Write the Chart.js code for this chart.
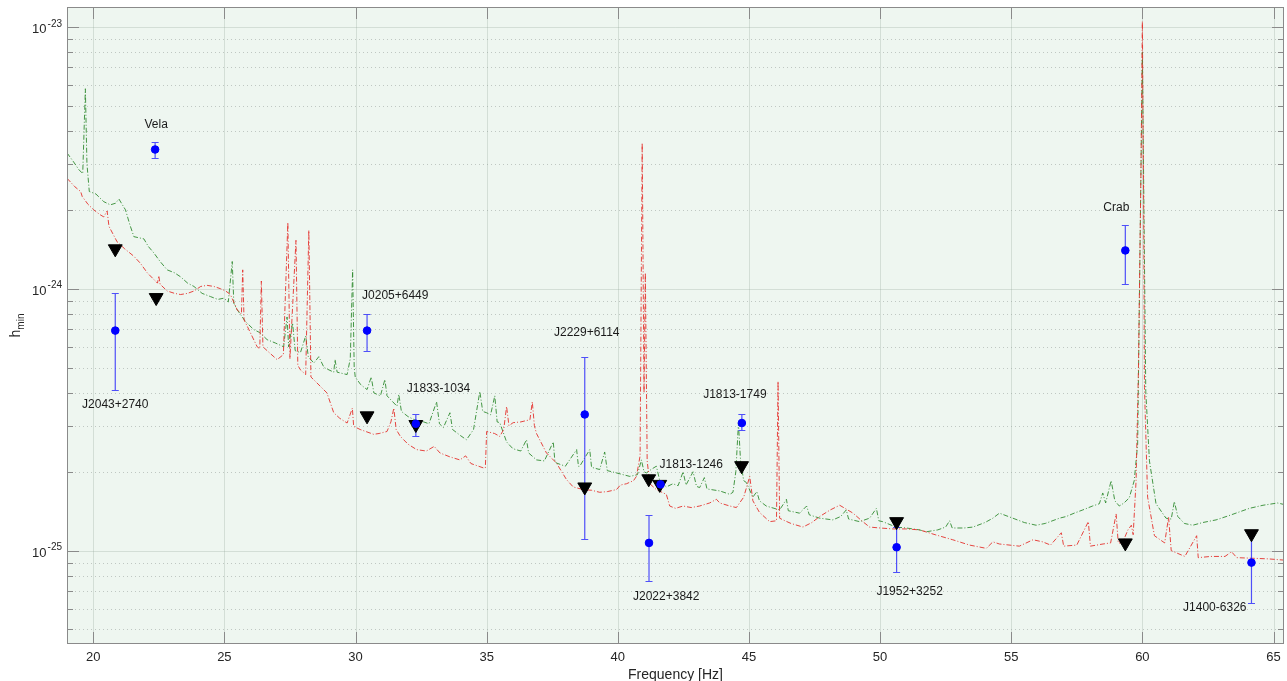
<!DOCTYPE html>
<html>
<head>
<meta charset="utf-8">
<script src="https://cdn.jsdelivr.net/npm/chart.js@4.4.1/dist/chart.umd.min.js"></script>
<style>
  body { margin:0; background:#fff; }
  canvas { display:block; }
</style>
</head>
<body>
<canvas id="hminChart" width="1287" height="681"></canvas>
<script>
// noise curves (frequency in Hz, h_min)
const greenF = [19.0,19.25,19.45,19.6,19.7,19.76,19.85,20.1,20.4,20.65,20.85,20.98,21.1,21.23,21.4,21.55,21.93,22.1,22.31,22.55,22.82,23.1,23.33,23.6,23.84,24.15,24.47,24.75,24.98,25.15,25.3,25.36,25.49,25.8,26.12,26.35,26.63,26.95,27.26,27.39,27.45,27.6,27.7,27.9,28.1,28.2,28.41,28.6,28.8,29.17,29.22,29.3,29.68,29.8,29.89,29.95,29.99,30.2,30.44,30.6,30.7,30.95,31.12,31.2,31.58,31.65,31.75,32.0,32.33,32.6,32.8,33.09,33.2,33.35,33.6,33.7,34.0,34.23,34.5,34.74,34.85,35.0,35.15,35.31,35.4,35.5,35.76,36.0,36.3,36.52,36.6,36.9,37.2,37.54,37.6,37.66,38.0,38.43,38.5,38.55,38.93,39.0,39.31,39.5,39.6,39.95,40.2,40.46,40.75,40.9,41.0,41.09,41.3,41.47,41.6,41.85,42.1,42.3,42.49,42.6,42.87,43.0,43.12,43.3,43.4,43.89,44.27,44.39,44.5,44.6,44.68,44.8,44.9,45.15,45.3,45.4,45.66,46.17,46.43,46.5,46.93,47.2,47.3,47.7,48.2,48.5,48.71,48.8,49.22,49.6,49.86,49.95,50.1,50.61,51.0,51.5,51.76,52.2,52.5,52.65,52.75,53.2,53.54,54.0,54.3,54.55,55.06,55.5,55.95,56.3,56.84,57.1,57.4,57.73,58.1,58.36,58.49,58.6,58.81,58.95,59.12,59.3,59.5,59.69,59.82,59.94,60.0,60.06,60.13,60.27,60.52,60.9,61.1,61.22,61.35,61.6,61.92,62.3,62.81,63.3,64.08,64.6,65.16,65.4];
const greenH = [3.30e-24,3.05e-24,2.85e-24,2.75e-24,5.8e-24,3.0e-24,2.35e-24,2.3e-24,2.15e-24,2.09e-24,2.12e-24,2.2e-24,2.1e-24,2.0e-24,1.75e-24,1.58e-24,1.55e-24,1.45e-24,1.37e-24,1.27e-24,1.18e-24,1.15e-24,1.11e-24,1.05e-24,1.02e-24,9.6e-25,9.33e-25,9.1e-25,9.2e-25,8.9e-25,1.27e-24,8.8e-25,8.31e-25,7.5e-25,6.98e-25,6.8e-25,6.39e-25,6.2e-25,6.0e-25,7.8e-25,6.0e-25,7.4e-25,5.8e-25,5.7e-25,6.6e-25,5.5e-25,5.2e-25,5.5e-25,5.0e-25,4.8e-25,5.36e-25,4.8e-25,4.7e-25,5.4e-25,1.18e-24,5.0e-25,4.6e-25,4.3e-25,4.12e-25,4.6e-25,4.0e-25,3.9e-25,4.5e-25,3.9e-25,3.56e-25,3.95e-25,3.4e-25,3.25e-25,3.13e-25,3.1e-25,3.05e-25,3.7e-25,3.05e-25,2.95e-25,3.36e-25,2.9e-25,2.75e-25,2.65e-25,2.9e-25,4.05e-25,3.4e-25,3.36e-25,3.3e-25,3.9e-25,3.1e-25,3.08e-25,2.6e-25,2.45e-25,2.4e-25,2.65e-25,2.36e-25,2.22e-25,2.2e-25,2.6e-25,2.2e-25,2.16e-25,2.1e-25,2.43e-25,2.1e-25,2.1e-25,2.43e-25,2.08e-25,2.04e-25,2.38e-25,2.02e-25,1.98e-25,1.95e-25,1.92e-25,1.95e-25,2.22e-25,2.0e-25,1.98e-25,2.05e-25,2.1e-25,1.85e-25,1.75e-25,1.8e-25,1.77e-25,2.0e-25,1.78e-25,2.0e-25,1.76e-25,1.74e-25,1.9e-25,1.72e-25,1.69e-25,1.64e-25,1.67e-25,2.0e-25,3.07e-25,2.2e-25,1.85e-25,1.82e-25,1.6e-25,1.68e-25,1.55e-25,1.48e-25,1.43e-25,1.57e-25,1.42e-25,1.39e-25,1.48e-25,1.37e-25,1.33e-25,1.31e-25,1.35e-25,1.43e-25,1.32e-25,1.29e-25,1.33e-25,1.45e-25,1.3e-25,1.29e-25,1.23e-25,1.22e-25,1.2e-25,1.18e-25,1.2e-25,1.23e-25,1.3e-25,1.22e-25,1.22e-25,1.23e-25,1.28e-25,1.33e-25,1.39e-25,1.33e-25,1.28e-25,1.25e-25,1.27e-25,1.33e-25,1.35e-25,1.39e-25,1.43e-25,1.48e-25,1.51e-25,1.66e-25,1.52e-25,1.85e-25,1.55e-25,1.48e-25,1.52e-25,1.59e-25,1.85e-25,2.55e-25,2.49e-24,8.0e-24,2.0e-24,4.05e-25,2.2e-25,1.51e-25,1.33e-25,1.32e-25,1.54e-25,1.35e-25,1.27e-25,1.25e-25,1.28e-25,1.31e-25,1.36e-25,1.45e-25,1.49e-25,1.52e-25,1.5e-25];

const redF = [19.0,19.3,19.52,19.58,19.8,20.02,20.25,20.4,20.53,20.6,20.91,21.2,21.55,21.8,22.06,22.45,22.5,22.55,22.82,23.1,23.33,23.6,23.84,24.1,24.34,24.6,24.85,25.05,25.23,25.49,25.65,25.7,25.75,25.87,26.25,26.35,26.41,26.47,26.63,27.01,27.25,27.42,27.5,27.73,27.8,27.9,28.1,28.22,28.3,28.4,28.91,29.17,29.4,29.68,29.88,29.93,30.18,30.69,30.9,31.2,31.35,31.46,31.55,31.71,32.0,32.33,32.7,33.0,33.22,33.6,33.98,34.2,34.4,34.87,34.95,35.0,35.3,35.5,35.65,35.76,35.85,36.01,36.3,36.65,36.74,36.82,36.9,37.28,37.66,38.04,38.3,38.68,39.0,39.31,39.6,39.95,40.1,40.33,40.6,40.71,40.85,40.93,41.0,41.05,41.12,41.22,41.47,41.85,41.98,42.2,42.49,42.8,43.12,43.5,43.76,43.89,44.27,44.52,44.8,45.03,45.15,45.4,45.79,46.05,46.11,46.17,46.3,46.6,47.06,47.4,47.7,48.1,48.46,48.97,49.3,49.6,50.0,50.49,51.0,51.5,52.1,52.77,53.41,54.05,54.3,54.55,55.31,55.83,56.2,56.5,56.91,57.0,57.5,57.94,58.02,58.5,58.79,59.0,59.08,59.24,59.45,59.58,59.65,59.76,59.85,59.95,60.0,60.05,60.08,60.2,60.46,60.85,61.0,61.1,61.62,62.07,62.13,62.6,63.15,63.4,63.6,64.2,64.8,65.4];
const redH = [2.64e-24,2.45e-24,2.35e-24,2.25e-24,2.1e-24,2.0e-24,1.92e-24,1.88e-24,1.98e-24,1.73e-24,1.51e-24,1.42e-24,1.33e-24,1.25e-24,1.15e-24,1.05e-24,1.12e-24,1.04e-24,9.8e-25,9.6e-25,9.5e-25,9.6e-25,9.8e-25,1.02e-24,1.03e-24,1.02e-24,1.0e-24,9.8e-25,9.5e-25,8.3e-25,8.0e-25,1.18e-24,7.6e-25,7.2e-25,6.0e-25,5.9e-25,1.07e-24,6.0e-25,5.8e-25,5.36e-25,5.6e-25,1.79e-24,5.4e-25,1.53e-24,5.1e-25,4.9e-25,4.7e-25,1.67e-24,4.6e-25,4.5e-25,4.0e-25,3.36e-25,3.2e-25,3.07e-25,3.5e-25,2.98e-25,2.9e-25,2.78e-25,2.8e-25,2.85e-25,3.1e-25,3.5e-25,2.9e-25,2.73e-25,2.55e-25,2.43e-25,2.4e-25,2.5e-25,2.36e-25,2.28e-25,2.22e-25,2.3e-25,2.15e-25,2.07e-25,2.07e-25,2.85e-25,2.8e-25,2.73e-25,2.9e-25,3.55e-25,3.0e-25,3.08e-25,3.1e-25,3.16e-25,3.7e-25,3.0e-25,2.8e-25,2.36e-25,2.16e-25,1.87e-25,1.75e-25,1.71e-25,1.7e-25,1.67e-25,1.68e-25,1.71e-25,1.78e-25,1.8e-25,1.85e-25,1.92e-25,2.3e-25,3.6e-24,4.0e-25,1.15e-24,2.2e-25,1.8e-25,1.71e-25,1.64e-25,1.48e-25,1.45e-25,1.48e-25,1.46e-25,1.48e-25,1.52e-25,1.57e-25,1.52e-25,1.48e-25,1.46e-25,1.6e-25,1.92e-25,1.55e-25,1.4e-25,1.29e-25,1.3e-25,4.43e-25,1.33e-25,1.31e-25,1.27e-25,1.23e-25,1.28e-25,1.35e-25,1.43e-25,1.49e-25,1.39e-25,1.3e-25,1.23e-25,1.22e-25,1.21e-25,1.21e-25,1.2e-25,1.15e-25,1.1e-25,1.05e-25,1.02e-25,1.08e-25,1.06e-25,1.04e-25,1.1e-25,1.08e-25,1.05e-25,1.17e-25,1.04e-25,1.05e-25,1.29e-25,1.04e-25,1.06e-25,1.07e-25,1.38e-25,1.07e-25,1.07e-25,1.2e-25,1.25e-25,1.15e-25,1.85e-25,4.9e-25,3.0e-24,1.05e-23,2.0e-24,4.2e-25,1.6e-25,1.14e-25,1.07e-25,1.34e-25,1.0e-25,9.5e-26,1.14e-25,9.4e-26,9.5e-26,9.5e-26,9.9e-26,9.4e-26,9.35e-26,9.3e-26,9.2e-26];

// pulsars with measured h (blue) and error range
const pulsarNames = ['Vela','J2043+2740','J0205+6449','J1833-1034','J2229+6114','J2022+3842','J1813-1246','J1813-1749','Crab','J1952+3252','J1400-6326'];
const pulsarFreq = [22.36,20.84,30.44,32.3,38.74,41.19,41.63,44.73,59.35,50.63,64.16];
const pulsarH = [3.4e-24,6.92e-25,6.92e-25,3.05e-25,3.31e-25,1.07e-25,1.79e-25,3.07e-25,1.40e-24,1.03e-25,9.0e-26];
const pulsarHigh = [3.64e-24,9.66e-25,8.03e-25,3.33e-25,5.5e-25,1.37e-25,null,3.31e-25,1.75e-24,1.23e-25,1.16e-25];
const pulsarLow = [3.16e-24,4.12e-25,5.8e-25,2.73e-25,1.11e-25,7.67e-26,null,2.88e-25,1.04e-24,8.3e-26,6.3e-26];

// upper limits (black triangles)
const ulFreq = [20.84,22.4,30.44,32.3,38.74,41.18,41.6,44.72,50.63,59.35,64.16];
const ulH = [1.42e-24,9.25e-25,3.27e-25,3.03e-25,1.75e-25,1.88e-25,1.79e-25,2.11e-25,1.29e-25,1.07e-25,1.16e-25];

const xTicks = [20,25,30,35,40,45,50,55,60,65];
const yDecades = [-25,-24,-23];

// label placement relative to the point: [dx, dy, align]
const labelPos = [[1,-25,'center'],[0,74,'center'],[-5,-35,'left'],[-9,-35,'left'],[2,-82,'center'],[-16,54,'left'],[-1,-20,'left'],[-7,-28,'center'],[-9,-43,'center'],[13,44,'center'],[-5,45,'right']];

const FONT = '"Liberation Sans", Arial, Helvetica, sans-serif';
const pts = (xs, ys) => xs.map((x, i) => ({ x: x, y: ys[i] }));

const axesPlugin = {
  id: 'axesPlugin',
  beforeDraw(chart){
    const { ctx, chartArea: a } = chart;
    ctx.save();
    ctx.fillStyle = '#ffffff';
    ctx.fillRect(0, 0, chart.width, chart.height);
    ctx.fillStyle = '#eef6f0';
    ctx.fillRect(a.left, a.top, a.right - a.left, a.bottom - a.top);
    ctx.restore();
  },
  beforeDatasetsDraw(chart){
    const { ctx, chartArea: a, scales } = chart;
    const xs = scales.x, ys = scales.y;
    ctx.save();
    ctx.lineWidth = 1;
    // minor y grid, dotted
    ctx.strokeStyle = 'rgba(120,130,125,0.4)';
    ctx.setLineDash([1, 3]);
    for(let e = -26; e <= -23; e++){
      for(let k = 2; k <= 9; k++){
        const v = k * Math.pow(10, e);
        if(v < ys.min || v > ys.max) continue;
        const y = Math.round(ys.getPixelForValue(v)) + 0.5;
        ctx.beginPath(); ctx.moveTo(a.left, y); ctx.lineTo(a.right, y); ctx.stroke();
      }
    }
    ctx.setLineDash([]);
    ctx.strokeStyle = 'rgba(150,165,155,0.3)';
    yDecades.forEach(e => {
      const y = Math.round(ys.getPixelForValue(Math.pow(10, e))) + 0.5;
      ctx.beginPath(); ctx.moveTo(a.left, y); ctx.lineTo(a.right, y); ctx.stroke();
    });
    xTicks.forEach(t => {
      const x = Math.round(xs.getPixelForValue(t)) + 0.5;
      ctx.beginPath(); ctx.moveTo(x, a.top); ctx.lineTo(x, a.bottom); ctx.stroke();
    });
    ctx.restore();
  },
  afterDatasetDraw(chart, args){
    if(chart.data.datasets[args.index].label !== 'red') return;
    const { ctx, scales } = chart;
    const xs = scales.x, ys = scales.y;
    ctx.save();
    ctx.strokeStyle = 'rgba(50,50,250,0.85)';
    ctx.lineWidth = 1.2;
    pulsarFreq.forEach((f, i) => {
      if(pulsarHigh[i] === null) return;
      const x = xs.getPixelForValue(f);
      const y1 = Math.round(ys.getPixelForValue(pulsarHigh[i])) + 0.5;
      const y2 = Math.round(ys.getPixelForValue(pulsarLow[i])) + 0.5;
      ctx.beginPath();
      ctx.moveTo(x, y1); ctx.lineTo(x, y2);
      ctx.moveTo(x - 3.5, y1); ctx.lineTo(x + 3.5, y1);
      ctx.moveTo(x - 3.5, y2); ctx.lineTo(x + 3.5, y2);
      ctx.stroke();
    });
    ctx.restore();
  },
  afterDraw(chart){
    const { ctx, chartArea: a, scales } = chart;
    const xs = scales.x, ys = scales.y;
    ctx.save();
    // box
    ctx.strokeStyle = '#8a8a8a';
    ctx.lineWidth = 1;
    ctx.strokeRect(a.left + 0.5, a.top + 0.5, a.right - a.left - 1, a.bottom - a.top - 1);
    // x ticks, inside, bottom and top
    xTicks.forEach(t => {
      const x = Math.round(xs.getPixelForValue(t)) + 0.5;
      ctx.beginPath();
      ctx.moveTo(x, a.bottom); ctx.lineTo(x, a.bottom - 12);
      ctx.moveTo(x, a.top); ctx.lineTo(x, a.top + 12);
      ctx.stroke();
    });
    // y ticks, inside, left and right
    for(let e = -26; e <= -23; e++){
      for(let k = 1; k <= 9; k++){
        const v = k * Math.pow(10, e);
        if(v < ys.min || v > ys.max) continue;
        const y = Math.round(ys.getPixelForValue(v)) + 0.5;
        const len = k === 1 ? 12 : 6;
        ctx.beginPath();
        ctx.moveTo(a.left, y); ctx.lineTo(a.left + len, y);
        ctx.moveTo(a.right, y); ctx.lineTo(a.right - len, y);
        ctx.stroke();
      }
    }
    // tick labels
    ctx.fillStyle = '#262626';
    ctx.font = '13px ' + FONT;
    ctx.textAlign = 'center';
    ctx.textBaseline = 'middle';
    xTicks.forEach(t => {
      ctx.fillText(String(t), xs.getPixelForValue(t), a.bottom + 13);
    });
    yDecades.forEach(e => {
      const y = ys.getPixelForValue(Math.pow(10, e));
      ctx.font = '10px ' + FONT;
      ctx.textAlign = 'right';
      const sup = String(e);
      ctx.fillText(sup, a.left - 5, y - 3);
      const w = ctx.measureText(sup).width;
      ctx.font = '13px ' + FONT;
      ctx.fillText('10', a.left - 5 - w - 1, y + 3);
    });
    // axis titles
    ctx.font = '14px ' + FONT;
    ctx.textAlign = 'center';
    ctx.fillText('Frequency [Hz]', (a.left + a.right) / 2, a.bottom + 31);
    ctx.save();
    ctx.translate(16, (a.top + a.bottom) / 2);
    ctx.rotate(-Math.PI / 2);
    ctx.textAlign = 'left';
    ctx.font = '14px ' + FONT;
    const hw = ctx.measureText('h').width;
    ctx.font = '10px ' + FONT;
    const mw = ctx.measureText('min').width;
    const x0 = -(hw + mw) / 2;
    ctx.font = '14px ' + FONT;
    ctx.fillText('h', x0, 0);
    ctx.font = '10px ' + FONT;
    ctx.fillText('min', x0 + hw, 5);
    ctx.restore();
    // pulsar labels
    ctx.fillStyle = '#1a1a1a';
    ctx.font = '12px ' + FONT;
    ctx.textBaseline = 'middle';
    pulsarNames.forEach((n, i) => {
      const p = labelPos[i];
      ctx.textAlign = p[2];
      ctx.fillText(n, xs.getPixelForValue(pulsarFreq[i]) + p[0], ys.getPixelForValue(pulsarH[i]) + p[1]);
    });
    ctx.restore();
  }
};

new Chart(document.getElementById('hminChart').getContext('2d'), {
  type: 'scatter',
  data: {
    datasets: [
      { label:'pulsars', data: pts(pulsarFreq, pulsarH), backgroundColor:'#0000ff', borderColor:'#0000ff', pointRadius:3.8, pointStyle:'circle', order:0 },
      { label:'limits', data: pts(ulFreq, ulH), backgroundColor:'#000000', borderColor:'#000000', pointRadius:8, pointStyle:'triangle', rotation:180, order:1 },
      { label:'red', data: pts(redF, redH), showLine:true, borderColor:'rgba(228,50,45,0.9)', borderWidth:1, borderDash:[5,2,1,2], pointRadius:0, order:3 },
      { label:'green', data: pts(greenF, greenH), showLine:true, borderColor:'rgba(50,140,50,0.9)', borderWidth:1, borderDash:[5,2,1,2], pointRadius:0, order:4 }
    ]
  },
  options: {
    responsive:false,
    animation:false,
    layout:{ autoPadding:false, padding:{ top:7, right:3, left:0, bottom:0 } },
    plugins:{ legend:{ display:false }, tooltip:{ enabled:false } },
    scales:{
      x:{ type:'linear', min:19, max:65.4, bounds:'data', ticks:{ display:false }, grid:{ display:false }, border:{ display:false },
          afterFit: s => { s.height = 37; } },
      y:{ type:'logarithmic', min:4.4e-26, max:1.19e-23, bounds:'data', ticks:{ display:false }, grid:{ display:false }, border:{ display:false },
          afterFit: s => { s.width = 67; } }
    }
  },
  plugins:[axesPlugin]
});
</script>
</body>
</html>
